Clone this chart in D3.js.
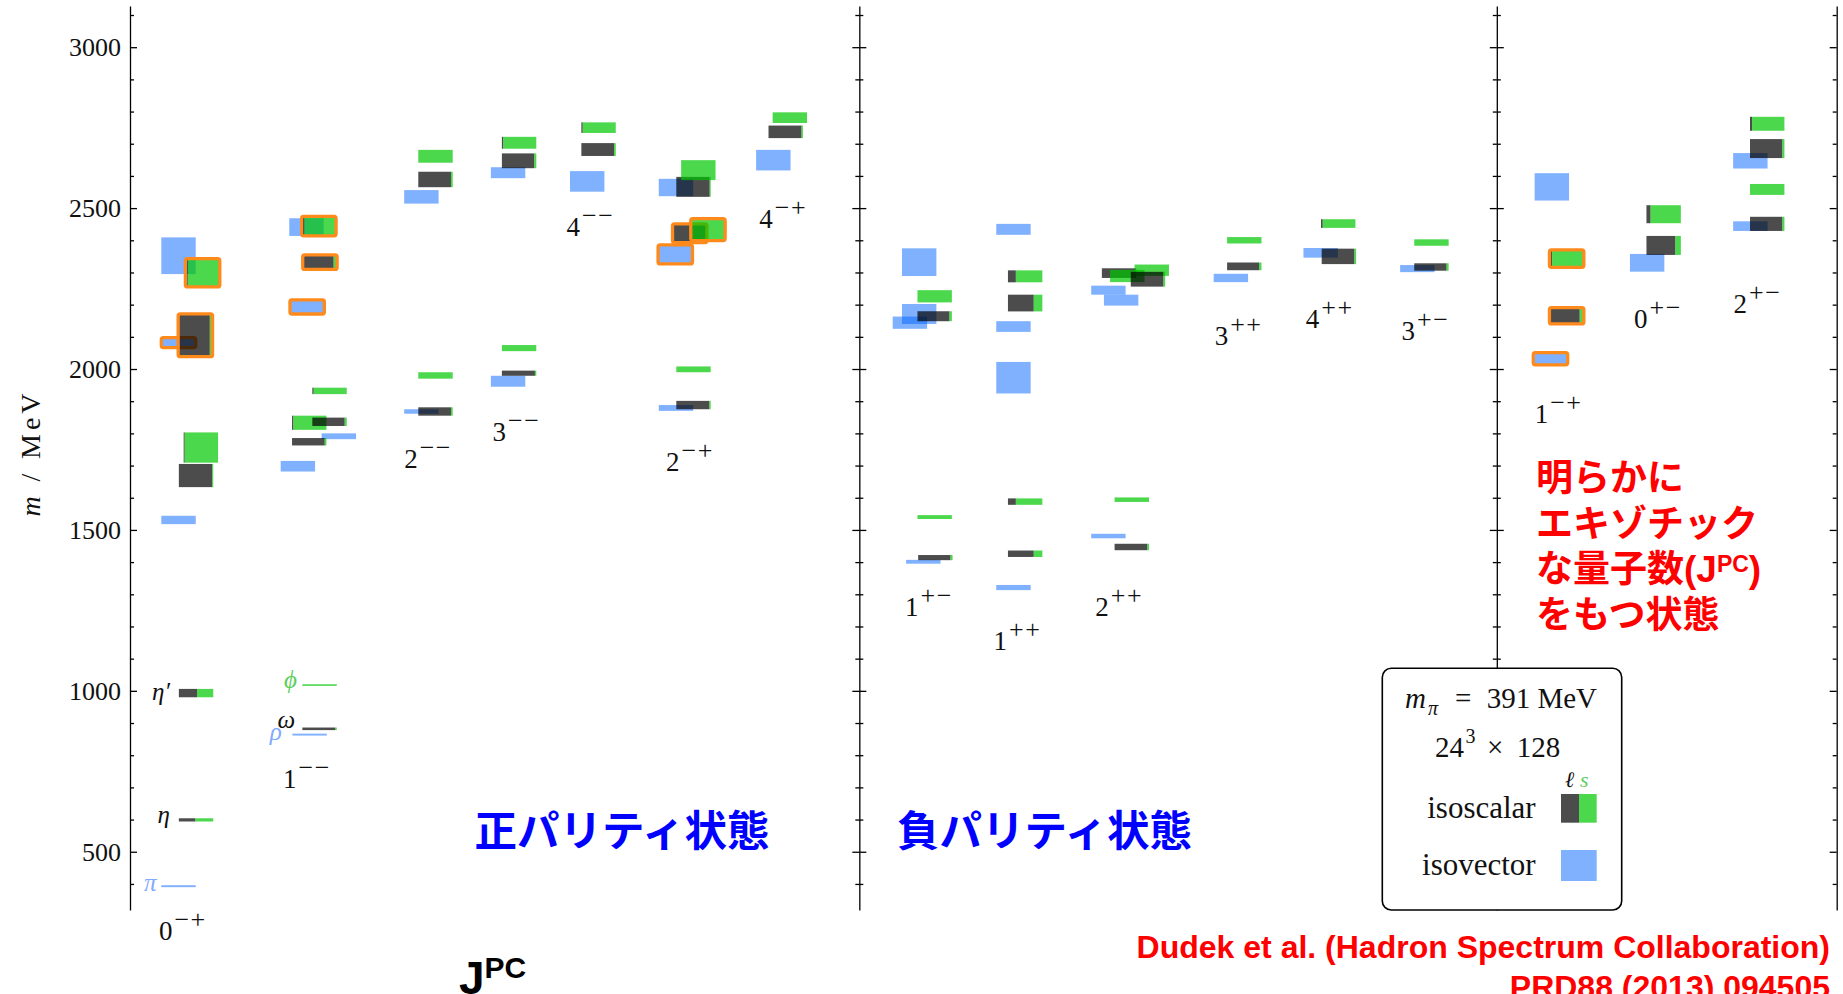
<!DOCTYPE html>
<html>
<head>
<meta charset="utf-8">
<style>
body { margin: 0; background: #fff; }
svg { display: block; }
.axis path, .axis line { stroke: #000; stroke-width: 1.3; }
.axis text { font-family: "Liberation Serif", serif; font-size: 26px; fill: #111; }
.serif { font-family: "Liberation Serif", serif; fill: #111; }
.jp { font-family: "Liberation Sans", "Noto Sans CJK JP", sans-serif; font-weight: bold; }
</style>
</head>
<body>
<svg width="1843" height="994"></svg>
<script src="https://d3js.org/d3.v7.min.js"></script>
<script>

// J^PC columns, label position (x in box widths, baseline in MeV)
var columns = ["0-+", "1--", "2--", "3--", "4--", "2-+", "4-+",
               "1+-", "1++", "2++", "3++", "4++", "3+-",
               "1-+", "0+-", "2+-"];
var labelX = [0.84, 4.45, 7.97, 10.54, 12.69, 15.58, 18.29,
              22.53, 25.10, 28.06, 31.53, 34.18, 36.96,
              40.83, 43.72, 46.61];
var labelM = [226, 697, 1692, 1777, 2414, 1684, 2439,
              1231, 1127, 1231, 2075, 2127, 2090,
              1832, 2127, 2173];

// panel frame lines (box-width units)
var panelAxes = [0, 21.2, 39.73, 49.61];

// isovector: [JPC, x left, mass, half height, exotic]
var isovector = [
  ["0-+", 0.91, 393, 3, 0], ["0-+", 0.91, 1531, 13, 0], ["0-+", 0.91, 2082, 15.5, 1], ["0-+", 0.91, 2352, 57, 0],
  ["1--", 4.72, 864, 3, 0], ["1--", 4.38, 1698, 16.5, 0], ["1--", 5.57, 1791, 9, 0],
  ["1--", 4.65, 2193, 22, 1], ["1--", 4.63, 2441, 27.5, 0],
  ["2--", 7.97, 1868, 7, 0], ["2--", 7.97, 2535, 21, 0],
  ["3--", 10.49, 1962, 17, 0], ["3--", 10.49, 2610, 17, 0],
  ["4--", 12.79, 2583, 32, 0],
  ["2-+", 15.37, 1879, 9, 0], ["2-+", 15.35, 2356, 29.5, 1], ["2-+", 15.37, 2564, 27, 0],
  ["4-+", 18.20, 2649, 32, 0],
  ["1+-", 22.17, 2144, 19, 0], ["1+-", 22.44, 2171, 31, 0], ["1+-", 22.44, 2332, 43, 0], ["1+-", 22.56, 1401, 6, 0],
  ["1++", 25.18, 1321, 8, 0], ["1++", 25.18, 1973, 49, 0], ["1++", 25.18, 2132, 16.6, 0], ["1++", 25.18, 2434, 17, 0],
  ["2++", 27.94, 1481, 7, 0], ["2++", 27.94, 2245, 14, 0], ["2++", 28.31, 2214, 17, 0],
  ["3++", 31.50, 2283, 13, 0],
  ["4++", 34.11, 2361, 15, 0],
  ["3+-", 36.92, 2312, 11, 0],
  ["1-+", 40.79, 2032, 19, 1], ["1-+", 40.83, 2566, 42.5, 0],
  ["0+-", 43.60, 2330, 27.5, 0],
  ["2+-", 46.60, 2444, 15, 0], ["2+-", 46.60, 2647, 24, 0]
];

// isoscalar: [JPC, x left, mass, half height, light-quark fraction, exotic]
var isoscalar = [
  ["0-+", 1.42, 599, 5, 0.48, 0], ["0-+", 1.42, 993, 13, 0.53, 0], ["0-+", 1.42, 1669, 36, 0.97, 0],
  ["0-+", 1.56, 1756, 47, 0.03, 0], ["0-+", 1.40, 2105, 66.5, 0.92, 1], ["0-+", 1.61, 2299, 44, 0.07, 1],
  ["1--", 5.01, 882, 4, 0.95, 0], ["1--", 5.01, 1018, 2.5, 0, 0],
  ["1--", 4.71, 1774, 11.5, 0.95, 0], ["1--", 4.71, 1833, 22, 0.04, 0],
  ["1--", 5.30, 1836, 13, 0.94, 0], ["1--", 5.30, 1932, 10, 0.04, 0],
  ["1--", 5.02, 2332, 22.5, 0.9, 1], ["1--", 4.99, 2444, 30, 0.08, 1],
  ["2--", 8.38, 1868, 13, 0.95, 0], ["2--", 8.38, 1980, 10, 0, 0],
  ["2--", 8.38, 2589, 24, 0.95, 0], ["2--", 8.38, 2661, 20, 0, 0],
  ["3--", 10.81, 1987, 8, 0.96, 0], ["3--", 10.81, 2065, 9.5, 0, 0],
  ["3--", 10.81, 2647, 23, 0.94, 0], ["3--", 10.81, 2703, 18.5, 0.04, 0],
  ["4--", 13.12, 2682, 20, 0.95, 0], ["4--", 13.12, 2750, 16.5, 0.04, 0],
  ["2-+", 15.88, 1888, 13, 0.96, 0], ["2-+", 15.88, 1999, 9, 0, 0],
  ["2-+", 15.88, 2566, 31, 0.97, 0], ["2-+", 16.02, 2618, 31, 0, 0],
  ["2-+", 15.77, 2422, 29, 1, 1], ["2-+", 16.30, 2433, 34, 0, 1],
  ["4-+", 18.56, 2737, 19.5, 0.96, 0], ["4-+", 18.68, 2781, 16.6, 0, 0],
  ["1+-", 22.91, 1414, 8, 0.94, 0], ["1+-", 22.89, 1540, 6, 0, 0],
  ["1+-", 22.89, 2164, 15.5, 0.93, 0], ["1+-", 22.89, 2226, 19, 0, 0],
  ["1++", 25.52, 1426, 10, 0.75, 0], ["1++", 25.52, 1588, 10, 0.23, 0],
  ["1++", 25.52, 2205, 26, 0.75, 0], ["1++", 25.52, 2288, 18.6, 0.23, 0],
  ["2++", 28.62, 1447, 10, 0.95, 0], ["2++", 28.62, 1594, 7, 0, 0],
  ["2++", 28.25, 2298, 15, 1, 0], ["2++", 28.49, 2289, 19, 0, 0],
  ["2++", 29.20, 2307, 17.6, 0, 0], ["2++", 29.09, 2279, 23, 0.95, 0],
  ["3++", 31.89, 2319, 12, 0.93, 0], ["3++", 31.89, 2400, 10, 0, 0],
  ["4++", 34.64, 2350, 24, 0.95, 0], ["4++", 34.62, 2452, 13.5, 0.05, 0],
  ["3+-", 37.33, 2317, 11.5, 0.94, 0], ["3+-", 37.33, 2393, 10, 0, 0],
  ["1-+", 41.26, 2165.5, 25.5, 0.88, 1], ["1-+", 41.26, 2343, 27, 0.08, 1],
  ["0+-", 44.08, 2384, 29.5, 0.84, 0], ["0+-", 44.08, 2481, 28, 0.12, 0],
  ["2+-", 47.09, 2451, 22, 0.94, 0], ["2+-", 47.09, 2558, 17, 0, 0],
  ["2+-", 47.09, 2685, 29.5, 0.94, 0], ["2+-", 47.09, 2762, 21.7, 0.06, 0]
];

// experimental states: [symbol, kind, x right edge, baseline mass]
var physLabels = [
  ["π", "iv", 0.77, 378], ["η", "l", 1.16, 590], ["η′", "l", 1.16, 972],
  ["ϕ", "s", 4.85, 1009], ["ω", "l", 4.80, 886], ["ρ", "iv", 4.41, 848]
];

var majorTicks = d3.range(500, 3001, 500);
var minorTicks = d3.range(400, 3101, 100).filter(function(v) { return v % 500; });

var colIV = "rgb(0,100,255)", colL = "#000", colS = "rgb(0,200,0)", colEx = "#ff8a1c";
var labelColor = {iv: "#82aaff", l: "#111", s: "#5ccf5c"};

var svg = d3.select("svg");
var x = d3.scaleLinear().domain([0, 49.61]).range([130, 1836.7]);
var y = d3.scaleLinear().domain([319, 3128]).range([910, 6]);
var boxW = x(1) - x(0);

// axes
panelAxes.forEach(function(p, i) {
  var g = svg.append("g").attr("class", "axis").attr("transform", "translate(" + x(p) + ",0)");
  if (i == 0) {
    g.call(d3.axisLeft(y).tickValues(majorTicks).tickSize(-7).tickSizeOuter(0).tickPadding(9).tickFormat(d3.format("d")));
    g.append("g").call(d3.axisLeft(y).tickValues(minorTicks).tickSize(-4).tickFormat(""))
      .select(".domain").remove();
  } else if (i == panelAxes.length - 1) {
    g.call(d3.axisRight(y).tickValues(majorTicks).tickSize(-7).tickSizeOuter(0).tickFormat(""));
    g.append("g").call(d3.axisRight(y).tickValues(minorTicks).tickSize(-4).tickFormat(""))
      .select(".domain").remove();
  } else {
    g.call(d3.axisLeft(y).tickValues(majorTicks).tickSize(7).tickSizeOuter(0).tickFormat(""));
    g.append("g").call(d3.axisRight(y).tickValues(majorTicks).tickSize(7).tickFormat("")).select(".domain").remove();
    g.append("g").call(d3.axisLeft(y).tickValues(minorTicks).tickSize(4).tickFormat("")).select(".domain").remove();
    g.append("g").call(d3.axisRight(y).tickValues(minorTicks).tickSize(4).tickFormat("")).select(".domain").remove();
  }
});

function boxTop(d) { return y(d[2] + d[3]); }
function boxH(d) { return y(d[2] - d[3]) - y(d[2] + d[3]); }

// isovector boxes
svg.append("g").selectAll("rect").data(isovector).join("rect")
  .attr("x", function(d) { return x(d[1]); })
  .attr("y", boxTop).attr("width", boxW).attr("height", boxH)
  .attr("fill", colIV).attr("fill-opacity", 0.5);

svg.append("g").selectAll("rect").data(isovector.filter(function(d) { return d[4]; })).join("rect")
  .attr("x", function(d) { return x(d[1]); })
  .attr("y", boxTop).attr("width", boxW).attr("height", boxH)
  .attr("rx", 2).attr("fill", "none").attr("stroke", colEx).attr("stroke-width", 3.3);

// isoscalar boxes: light part then strange part
var iso = svg.append("g").selectAll("g").data(isoscalar).join("g");
iso.append("rect")
  .attr("x", function(d) { return x(d[1]); })
  .attr("y", boxTop).attr("width", function(d) { return boxW * d[4]; }).attr("height", boxH)
  .attr("fill", colL).attr("fill-opacity", 0.7);
iso.append("rect")
  .attr("x", function(d) { return x(d[1]) + boxW * d[4]; })
  .attr("y", boxTop).attr("width", function(d) { return boxW * (1 - d[4]); }).attr("height", boxH)
  .attr("fill", colS).attr("fill-opacity", 0.7);
iso.filter(function(d) { return d[5]; }).append("rect")
  .attr("x", function(d) { return x(d[1]); })
  .attr("y", boxTop).attr("width", boxW).attr("height", boxH)
  .attr("rx", 2).attr("fill", "none").attr("stroke", colEx).attr("stroke-width", 3.3);

// experimental state labels
svg.append("g").selectAll("text").data(physLabels).join("text")
  .attr("class", "serif")
  .attr("x", function(d) { return x(d[2]); })
  .attr("y", function(d) { return y(d[3]); })
  .attr("text-anchor", "end").attr("font-style", "italic").attr("font-size", 25)
  .style("fill", function(d) { return labelColor[d[1]]; })
  .text(function(d) { return d[0]; });

// J^PC labels
var lab = svg.append("g").attr("class", "serif");
columns.forEach(function(c, i) {
  var t = lab.append("text").attr("x", x(labelX[i])).attr("y", y(labelM[i]));
  t.append("tspan").attr("font-size", 27).text(c[0]);
  t.append("tspan").attr("font-size", 26).attr("dy", -12).attr("dx", 2)
    .attr("letter-spacing", 1.5).text(c.slice(1).replace(/-/g, "\u2212"));
});

// y axis title
var yt = svg.append("text").attr("class", "serif")
  .attr("transform", "translate(40,455) rotate(-90)")
  .attr("text-anchor", "middle").attr("font-size", 28)
  .attr("textLength", 123).attr("lengthAdjust", "spacing");
yt.append("tspan").attr("font-style", "italic").text("m");
yt.append("tspan").text(" / MeV");

// legend
var lg = svg.append("g");
lg.append("rect").attr("x", 1382.3).attr("y", 668.3).attr("width", 239.4).attr("height", 241.7)
  .attr("rx", 9).attr("fill", "#fff").attr("stroke", "#000").attr("stroke-width", 1.6);
lg.append("text").attr("class", "serif").attr("x", 1405).attr("y", 708.3).attr("font-size", 29)
  .attr("font-style", "italic").text("m");
lg.append("text").attr("class", "serif").attr("x", 1428).attr("y", 715).attr("font-size", 20)
  .attr("font-style", "italic").text("π");
lg.append("text").attr("class", "serif").attr("x", 1455).attr("y", 708.3).attr("font-size", 29).text("=");
lg.append("text").attr("class", "serif").attr("x", 1486.7).attr("y", 708.3).attr("font-size", 29).text("391 MeV");
lg.append("text").attr("class", "serif").attr("x", 1435).attr("y", 756.7).attr("font-size", 29).text("24");
lg.append("text").attr("class", "serif").attr("x", 1465.5).attr("y", 743).attr("font-size", 20).text("3");
lg.append("text").attr("class", "serif").attr("x", 1487).attr("y", 756.7).attr("font-size", 29).text("×");
lg.append("text").attr("class", "serif").attr("x", 1516.7).attr("y", 756.7).attr("font-size", 29).text("128");
lg.append("text").attr("class", "serif").attr("x", 1565).attr("y", 786.7).attr("font-size", 22)
  .attr("font-style", "italic").text("ℓ");
lg.append("text").attr("class", "serif").attr("x", 1580).attr("y", 786.7).attr("font-size", 22)
  .attr("font-style", "italic").style("fill", "#5ccf5c").text("s");
lg.append("text").attr("class", "serif").attr("x", 1535.7).attr("y", 818.3).attr("font-size", 31)
  .attr("text-anchor", "end").text("isoscalar");
lg.append("text").attr("class", "serif").attr("x", 1535.7).attr("y", 875).attr("font-size", 31)
  .attr("text-anchor", "end").text("isovector");
lg.append("rect").attr("x", 1561).attr("y", 794).attr("width", 18).attr("height", 28.7)
  .attr("fill", colL).attr("fill-opacity", 0.7);
lg.append("rect").attr("x", 1579).attr("y", 794).attr("width", 17.7).attr("height", 28.7)
  .attr("fill", colS).attr("fill-opacity", 0.7);
lg.append("rect").attr("x", 1561).attr("y", 850).attr("width", 35.7).attr("height", 31)
  .attr("fill", colIV).attr("fill-opacity", 0.5);

// annotations
svg.append("text").attr("class", "jp").attr("x", 474.5).attr("y", 846).attr("font-size", 42.5)
  .style("fill", "#0000ff").text("正パリティ状態");
svg.append("text").attr("class", "jp").attr("x", 897).attr("y", 846).attr("font-size", 42.5)
  .style("fill", "#0000ff").text("負パリティ状態");

var jt = svg.append("text").attr("class", "jp").attr("x", 459).attr("y", 994).style("fill", "#000");
jt.append("tspan").attr("font-size", 46).text("J");
jt.append("tspan").attr("font-size", 30).attr("dy", -16).text("PC");

var redLines = ["明らかに", "エキゾチック", "な量子数(J", "をもつ状態"];
var red = svg.append("g").attr("class", "jp").style("fill", "#ff0000").attr("font-size", 37);
redLines.forEach(function(s, i) {
  var t = red.append("text").attr("x", 1536).attr("y", 491 + i * 45.5);
  t.append("tspan").text(s);
  if (i == 2) {
    t.append("tspan").attr("font-size", 23).attr("dy", -10).text("PC");
    t.append("tspan").attr("dy", 10).text(")");
  }
});

svg.append("text").attr("class", "jp").attr("x", 1830).attr("y", 958.3).attr("font-size", 32)
  .attr("text-anchor", "end").style("fill", "#ff0000").text("Dudek et al. (Hadron Spectrum Collaboration)");
svg.append("text").attr("class", "jp").attr("x", 1830).attr("y", 998).attr("font-size", 32)
  .attr("text-anchor", "end").style("fill", "#ff0000").text("PRD88 (2013) 094505");

</script>
</body>
</html>
